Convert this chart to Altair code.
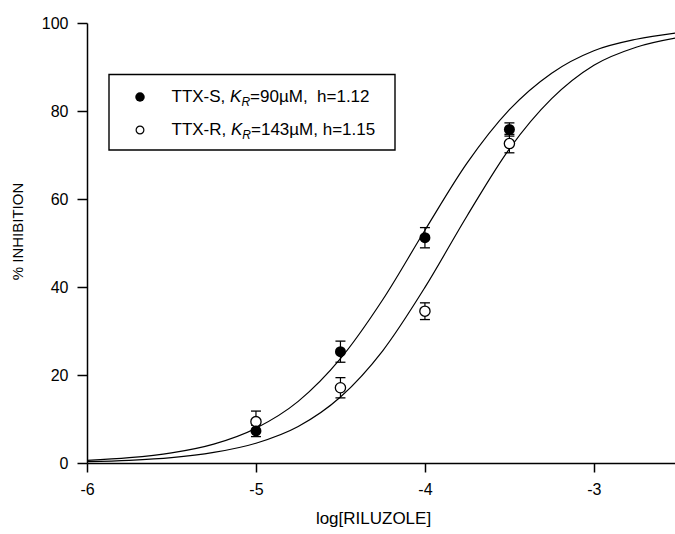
import altair as alt
import pandas as pd

# ---- data ----
conc = [-5.0, -4.5, -4.0, -3.5]
s_mean = [7.3, 25.3, 51.2, 75.8]
s_sem = [1.3, 2.4, 2.3, 1.5]
r_mean = [9.4, 17.1, 34.5, 72.6]
r_sem = [2.4, 2.3, 1.9, 2.1]

curve_x = [-6.0, -5.75, -5.5, -5.25, -5.0, -4.75, -4.5, -4.25, -4.0,
           -3.75, -3.5, -3.25, -3.0, -2.75, -2.5]
s_fit = [0.6, 1.2, 2.3, 4.3, 7.9, 14.0, 23.7, 37.1, 52.9,
         68.2, 80.3, 88.6, 93.7, 96.3, 97.8]
r_fit = [0.3, 0.6, 1.2, 2.4, 4.5, 8.3, 15.0, 25.5, 39.9,
         56.2, 71.4, 82.8, 90.4, 94.5, 96.7]

x_ticks = [-6, -5, -4, -3]
y_ticks = [0, 20, 40, 60, 80, 100]

legend_names = ["TTX-S, ", "TTX-R, "]
legend_rest = ["=90\u00b5M,\u00a0 h=1.12", "=143\u00b5M, h=1.15"]

# ---- tables ----
pts = pd.DataFrame({
    "x": conc + conc,
    "y": s_mean + r_mean,
    "e": s_sem + r_sem,
    "series": ["TTX-S"] * len(conc) + ["TTX-R"] * len(conc),
})
pts["lo"] = pts["y"] - pts["e"]
pts["hi"] = pts["y"] + pts["e"]

fit = pd.DataFrame({
    "x": curve_x + curve_x,
    "y": s_fit + r_fit,
    "series": ["TTX-S"] * len(curve_x) + ["TTX-R"] * len(curve_x),
})

FONT = "Liberation Sans"
xs = alt.Scale(domain=[-6, -2.52], nice=False, zero=False)
ys = alt.Scale(domain=[0, 100], nice=False, zero=True)

x_axis = alt.Axis(values=x_ticks, title="log[RILUZOLE]", labelExpr="'' + datum.value",
                  tickSize=9, labelPadding=9, titleFontSize=17, labelFlush=False,
                  titleX=286, titleY=60, titleBaseline="alphabetic")
y_axis = alt.Axis(values=y_ticks, title="% INHIBITION", tickSize=10, labelPadding=9,
                  titleFontSize=15, titleX=-70, titleY=208, titleAngle=-90,
                  labelFlush=False, titleAlign="center", titleBaseline="middle")

X = alt.X("x:Q", scale=xs, axis=x_axis)
Y = alt.Y("y:Q", scale=ys, axis=y_axis)

curves = alt.Chart(fit).mark_line(color="black", strokeWidth=1.2,
                                  interpolate="monotone", clip=True).encode(
    x=X, y=Y, detail="series:N")

bars = alt.Chart(pts).mark_rule(color="black", strokeWidth=1.2).encode(
    x=alt.X("x:Q", scale=xs), y=alt.Y("lo:Q", scale=ys), y2="hi:Q")
cap_lo = alt.Chart(pts).mark_tick(color="black", orient="horizontal", size=10,
                                  thickness=1.3, opacity=1).encode(
    x=alt.X("x:Q", scale=xs), y=alt.Y("lo:Q", scale=ys))
cap_hi = alt.Chart(pts).mark_tick(color="black", orient="horizontal", size=10,
                                  thickness=1.3, opacity=1).encode(
    x=alt.X("x:Q", scale=xs), y=alt.Y("hi:Q", scale=ys))

open_pts = alt.Chart(pts).transform_filter(alt.datum.series == "TTX-R").mark_point(
    shape="circle", filled=True, fill="white", stroke="black", strokeWidth=1.3,
    size=105, opacity=1).encode(x=alt.X("x:Q", scale=xs), y=alt.Y("y:Q", scale=ys))
filled_pts = alt.Chart(pts).transform_filter(alt.datum.series == "TTX-S").mark_point(
    shape="circle", filled=True, color="black", size=120, opacity=1).encode(
    x=alt.X("x:Q", scale=xs), y=alt.Y("y:Q", scale=ys))

# ---- legend box ----
one = alt.Data(values=[{"k": 0}])
box = alt.Chart(one).mark_rect(fill="white", stroke="black", strokeWidth=1.4).encode(
    x=alt.value(22), x2=alt.value(308), y=alt.value(51.5), y2=alt.value(127))

legend_layers = [box]
row_y = [74, 107]
name_w = [58.6, 59.5]
for i in range(2):
    yy = row_y[i]
    if i == 0:
        m = alt.Chart(one).mark_point(shape="circle", filled=True, color="black",
                                      size=90, opacity=1)
    else:
        m = alt.Chart(one).mark_point(shape="circle", filled=True, fill="white",
                                      stroke="black", strokeWidth=1.2, size=60, opacity=1)
    legend_layers.append(m.encode(x=alt.value(53), y=alt.value(yy)))
    x0 = 84.5
    legend_layers.append(alt.Chart(one).mark_text(
        text=legend_names[i], align="left", baseline="middle", font=FONT,
        fontSize=17, color="black").encode(x=alt.value(x0), y=alt.value(yy)))
    xk = x0 + name_w[i]
    legend_layers.append(alt.Chart(one).mark_text(
        text="K", align="left", baseline="middle", font=FONT, fontStyle="italic",
        fontSize=17, color="black").encode(x=alt.value(xk), y=alt.value(yy)))
    legend_layers.append(alt.Chart(one).mark_text(
        text="R", align="left", baseline="middle", font=FONT, fontStyle="italic",
        fontSize=12, color="black").encode(x=alt.value(xk + 11.3), y=alt.value(yy + 5)))
    legend_layers.append(alt.Chart(one).mark_text(
        text=legend_rest[i], align="left", baseline="middle", font=FONT,
        fontSize=17, color="black").encode(x=alt.value(xk + 20), y=alt.value(yy)))

chart = alt.layer(curves, bars, cap_lo, cap_hi, open_pts, filled_pts,
                  *legend_layers).properties(
    width=588, height=440,
    autosize=alt.AutoSizeParams(type="none"),
    padding={"left": 87, "top": 23, "right": 0, "bottom": 71},
    background="white",
).configure_view(stroke=None).configure_axis(
    grid=False, domainColor="black", domainWidth=1.5, tickColor="black", tickWidth=1.5,
    labelFont=FONT, labelFontSize=16, labelColor="black",
    titleFont=FONT, titleColor="black", titleFontWeight="normal",
)

chart.save("out.html", embed_options={"renderer": "svg", "actions": False})
